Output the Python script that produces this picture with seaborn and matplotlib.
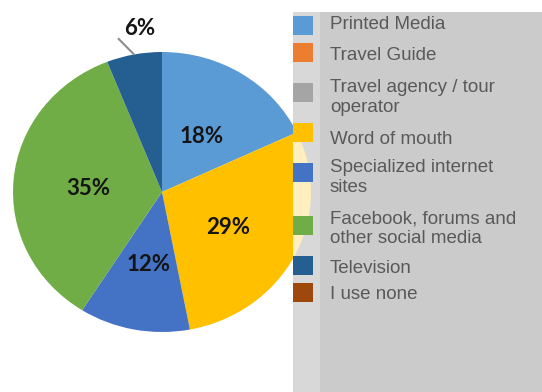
import matplotlib
matplotlib.use("Agg")
import numpy as np
import matplotlib.pyplot as plt
from matplotlib.patches import Rectangle
from matplotlib.transforms import offset_copy
import seaborn as sns

# ---- data -------------------------------------------------------------
sources = [
    "Printed Media",
    "Travel Guide",
    "Travel agency / tour\noperator",
    "Word of mouth",
    "Specialized internet\nsites",
    "Facebook, forums and\nother social media",
    "Television",
    "I use none",
]
shares = [18, 0, 0, 29, 12, 35, 6, 0]
source_colors = ["#5b9bd5", "#ed7d31", "#a5a5a5", "#ffc000",
                 "#4472c4", "#70ad47", "#255e91", "#9e480e"]

# ---- style ------------------------------------------------------------
sns.set_theme(style="white")
plt.rcParams["font.family"] = ["Liberation Sans", "DejaVu Sans"]
palette = sns.color_palette(source_colors)
pale = [tuple(0.25 * np.array(c) + 0.75) for c in palette]
label_font = dict(family=["Lato", "DejaVu Sans"], fontweight="bold",
                  fontsize=16, color="#141414")

W, H = 542, 392
fig = plt.figure(figsize=(W / 100, H / 100), dpi=100)
fig.patch.set_facecolor("white")

# pie ellipse geometry (pixels)
cx, cy, rx, ry = 162, 192, 149, 140


def pie_window(ax, x0, x1, y0, y1):
    """Show the unit pie so that it lands on the ellipse (cx, cy, rx, ry)."""
    ax.set_aspect("auto")
    ax.set_xlim((x0 - cx) / rx, (x1 - cx) / rx)
    ax.set_ylim((cy - y1) / ry, (cy - y0) / ry)
    ax.axis("off")


def pixel_axes(z):
    ax = fig.add_axes([0, 0, 1, 1], zorder=z)
    ax.set_xlim(0, W)
    ax.set_ylim(H, 0)
    ax.axis("off")
    return ax


# ---- pie --------------------------------------------------------------
pie_ax = fig.add_axes([(cx - rx) / W, (H - cy - ry) / H, 2 * rx / W, 2 * ry / H],
                      zorder=1)
inside = lambda p: f"{p:.0f}%" if p >= 10 else ""
wedges, _, autotexts = pie_ax.pie(
    shares, colors=palette, startangle=90, counterclock=False,
    autopct=inside, pctdistance=0.5,
    wedgeprops=dict(linewidth=0), textprops=label_font,
)
pie_window(pie_ax, cx - rx, cx + rx, cy - ry, cy + ry)

# centre the digits (not the line box) on the label point
label_tf = offset_copy(pie_ax.transData, fig=fig, x=0, y=-3.5, units="dots")
for t in autotexts:
    t.set_transform(label_tf)

# small slice labelled outside with a leader line
for w, s in zip(wedges, shares):
    if 0 < s < 10:
        mid = np.deg2rad((w.theta1 + w.theta2) / 2)
        ex, ey = np.cos(mid), np.sin(mid)
        pie_ax.plot([ex, ex - 0.108], [ey, ey + 0.116], color="#8c8c8c",
                    lw=1.5, clip_on=False, solid_capstyle="butt")
        pie_ax.text(ex + 0.036, ey + 0.21, f"{s}%", ha="center", va="center",
                    transform=label_tf, **label_font)

# ---- legend panel -----------------------------------------------------
strip_x0, strip_x1, panel_top = 293, 320, 12
panel = pixel_axes(2)
panel.add_patch(Rectangle((strip_x1, panel_top), W - strip_x1, H - panel_top,
                          facecolor="#cbcbcb", edgecolor="none"))
panel.add_patch(Rectangle((strip_x0, panel_top), strip_x1 - strip_x0,
                          H - panel_top, facecolor="#d8d8d8", edgecolor="none"))

# pie seen faintly through the marker column
ghost_ax = fig.add_axes([strip_x0 / W, 0, (strip_x1 - strip_x0) / W,
                         (H - panel_top) / H], zorder=3)
ghost, _ = ghost_ax.pie(shares, colors=pale, startangle=90, counterclock=False,
                        wedgeprops=dict(linewidth=0))
pie_window(ghost_ax, strip_x0, strip_x1, panel_top, H)
for g in ghost:
    g.set_clip_on(True)
    g.set_clip_path(ghost_ax.patch)

leg = pixel_axes(4)
marker_centers = [25, 52, 92, 132.5, 172.5, 225.5, 265.5, 292]
first_baselines = [29, 60, 91.7, 144, 171.7, 223.3, 272.7, 299]
for label, col, mc, base in zip(sources, palette, marker_centers, first_baselines):
    leg.add_patch(Rectangle((strip_x0, mc - 9.5), 20, 19, facecolor=col,
                            edgecolor="none"))
    for k, line in enumerate(label.split("\n")):
        leg.text(330, base + 20 * k, line, ha="left", va="baseline",
                 fontsize=13.5, color="#595959")

fig.savefig("out.png", dpi=100, facecolor="white")
